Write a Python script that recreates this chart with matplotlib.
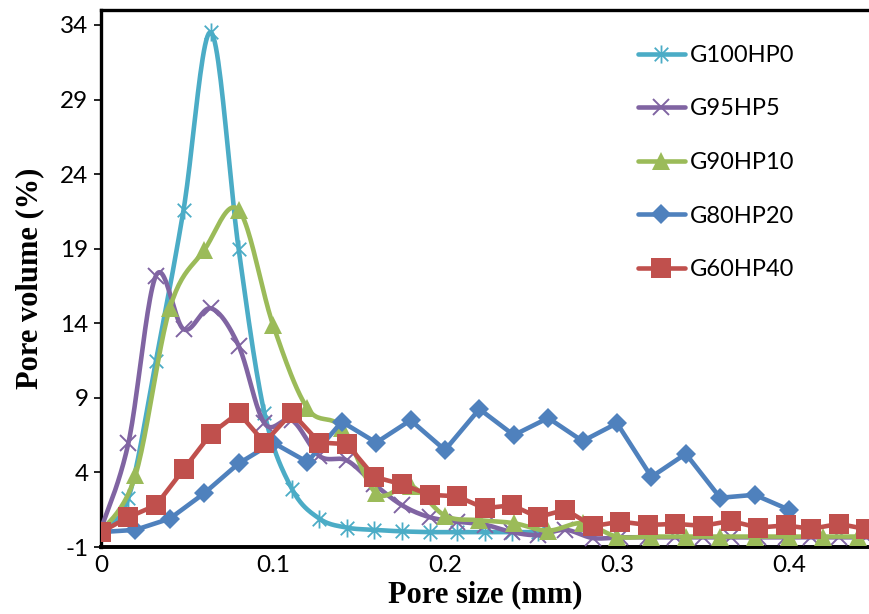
import matplotlib
matplotlib.use("Agg")
import matplotlib.pyplot as plt
import numpy as np
from matplotlib.path import Path
from matplotlib.lines import Line2D

plt.rcParams["axes.unicode_minus"] = False

# pore sizes (mm) - two different sampling steps in the source data
size_fine = [0, 0.016, 0.032, 0.048, 0.064, 0.080, 0.095, 0.111, 0.127, 0.143,
             0.159, 0.175, 0.191, 0.207, 0.223, 0.239, 0.254, 0.270, 0.286, 0.302,
             0.318, 0.334, 0.350, 0.366, 0.382, 0.398, 0.413, 0.429, 0.445]
size_coarse = [0, 0.02, 0.04, 0.06, 0.08, 0.10, 0.12, 0.14, 0.16, 0.18, 0.20,
               0.22, 0.24, 0.26, 0.28, 0.30, 0.32, 0.34, 0.36, 0.38, 0.40, 0.42, 0.44]

# pore volume (%)
g100hp0 = [0, 2.3, 11.5, 21.6, 33.5, 19.0, 8.0, 2.9, 0.9, 0.3, 0.15, 0.05,
           0.0, 0.0, 0.0, 0.0, 0.0]
g95hp5 = [0.2, 6.0, 17.2, 13.6, 15.0, 12.5, 7.3, 7.5, 5.1, 4.8, 3.2, 1.8, 1.0,
          0.7, 0.5, 0.0, -0.2, 0.15, -0.4, -0.35, -0.35, -0.35, -0.35, -0.35,
          -0.35, -0.35, -0.35, -0.35, -0.35]
g90hp10 = [0, 3.8, 15.0, 18.9, 21.6, 13.9, 8.3, 7.0, 2.6, 3.1, 1.1, 0.8, 0.6,
           0.1, 0.6, -0.3, -0.3, -0.3, -0.3, -0.3, -0.3, -0.3, -0.3]
g80hp20 = [0.0, 0.15, 0.9, 2.6, 4.6, 6.0, 4.7, 7.4, 6.0, 7.5, 5.5, 8.25, 6.5,
           7.65, 6.1, 7.3, 3.7, 5.25, 2.3, 2.5, 1.5]
g60hp40 = [0.0, 1.0, 1.8, 4.2, 6.6, 8.0, 6.0, 8.0, 6.0, 5.9, 3.7, 3.2, 2.5, 2.4,
           1.6, 1.8, 1.0, 1.5, 0.4, 0.7, 0.48, 0.55, 0.42, 0.75, 0.3, 0.45, 0.22,
           0.55, 0.2]

labels = ["G100HP0", "G95HP5", "G90HP10", "G80HP20", "G60HP40"]
colors = ["#4BACC6", "#8064A2", "#9BBB59", "#4F81BD", "#C0504D"]


def smooth(x, y, n=24):
    # excel-like smoothed line (catmull-rom through the points)
    pts = np.column_stack([x, y])
    P = np.vstack([pts[0], pts, pts[-1]])
    t = np.linspace(0, 1, n)[:, None]
    out = []
    for i in range(1, len(P) - 2):
        p0, p1, p2, p3 = P[i - 1], P[i], P[i + 1], P[i + 2]
        c1 = p1 + (p2 - p0) / 6
        c2 = p2 - (p3 - p1) / 6
        out.append((1 - t) ** 3 * p1 + 3 * (1 - t) ** 2 * t * c1
                   + 3 * (1 - t) * t ** 2 * c2 + t ** 3 * p2)
    return np.vstack(out)


star = Path([(0, -1), (0, 1), (-0.75, -0.75), (0.75, 0.75), (-0.75, 0.75), (0.75, -0.75)],
            [Path.MOVETO, Path.LINETO] * 3)

series = [
    (size_fine[:len(g100hp0)], g100hp0, True, dict(marker=star, ms=13, mew=1.3, mfc="none")),
    (size_fine, g95hp5, True, dict(marker="x", ms=12, mew=1.4)),
    (size_coarse, g90hp10, True, dict(marker="^", ms=13, mew=0)),
    (size_coarse[:len(g80hp20)], g80hp20, False, dict(marker="D", ms=10, mew=0)),
    (size_fine, g60hp40, False, dict(marker="s", ms=14, mew=0)),
]

fig = plt.figure(figsize=(8.69, 6.14), dpi=100)
ax = fig.add_axes([0.1162, 0.1091, 0.8838, 0.8746])

handles = []
for k, (xs, ys, smoothed, mk) in enumerate(series):
    c = colors[k]
    if smoothed:
        s = smooth(xs, ys)
        ax.plot(s[:, 0], s[:, 1], color=c, lw=3.3, solid_capstyle="round", zorder=2 + k)
    else:
        ax.plot(xs, ys, color=c, lw=3.3, solid_joinstyle="miter", zorder=2 + k)
    ax.plot(xs, ys, ls="none", color=c, mec=c, zorder=2 + k, **mk)
    handles.append(Line2D([], [], color=c, lw=3.3, solid_capstyle="round", mec=c, **mk))

ax.set_xlim(0, 0.4465)
ax.set_ylim(-1, 35)
ax.set_yticks(np.arange(-1, 35, 5))
ax.set_xticks([0, 0.1, 0.2, 0.3, 0.4])
ax.set_xticklabels(["0", "0.1", "0.2", "0.3", "0.4"])

for side in ["left", "top", "bottom"]:
    ax.spines[side].set_linewidth(2.4)
ax.spines["bottom"].set_linewidth(2.8)
ax.spines["right"].set_visible(False)

ax.tick_params(axis="y", direction="out", length=5, width=1.2, pad=4, labelsize=17.5)
ax.tick_params(axis="x", length=0, pad=6, labelsize=17.5)
for lab in ax.get_xticklabels() + ax.get_yticklabels():
    lab.set_family("Lato")

ax.set_xlabel("Pore size (mm)", family="Liberation Serif", fontweight="bold", fontsize=22, labelpad=3)
ax.set_ylabel("Pore volume (%)", family="Liberation Serif", fontweight="bold", fontsize=22)
ax.yaxis.set_label_coords(-0.074, 0.5)

leg = ax.legend(handles, labels, loc="upper left", bbox_to_anchor=(626 / 869, 1 - 33 / 614),
                bbox_transform=fig.transFigure, frameon=False, borderpad=0,
                handlelength=2.0, handletextpad=0.2, labelspacing=1.38,
                prop={"family": "Lato", "size": 17})

plt.savefig("out.png", dpi=100)
